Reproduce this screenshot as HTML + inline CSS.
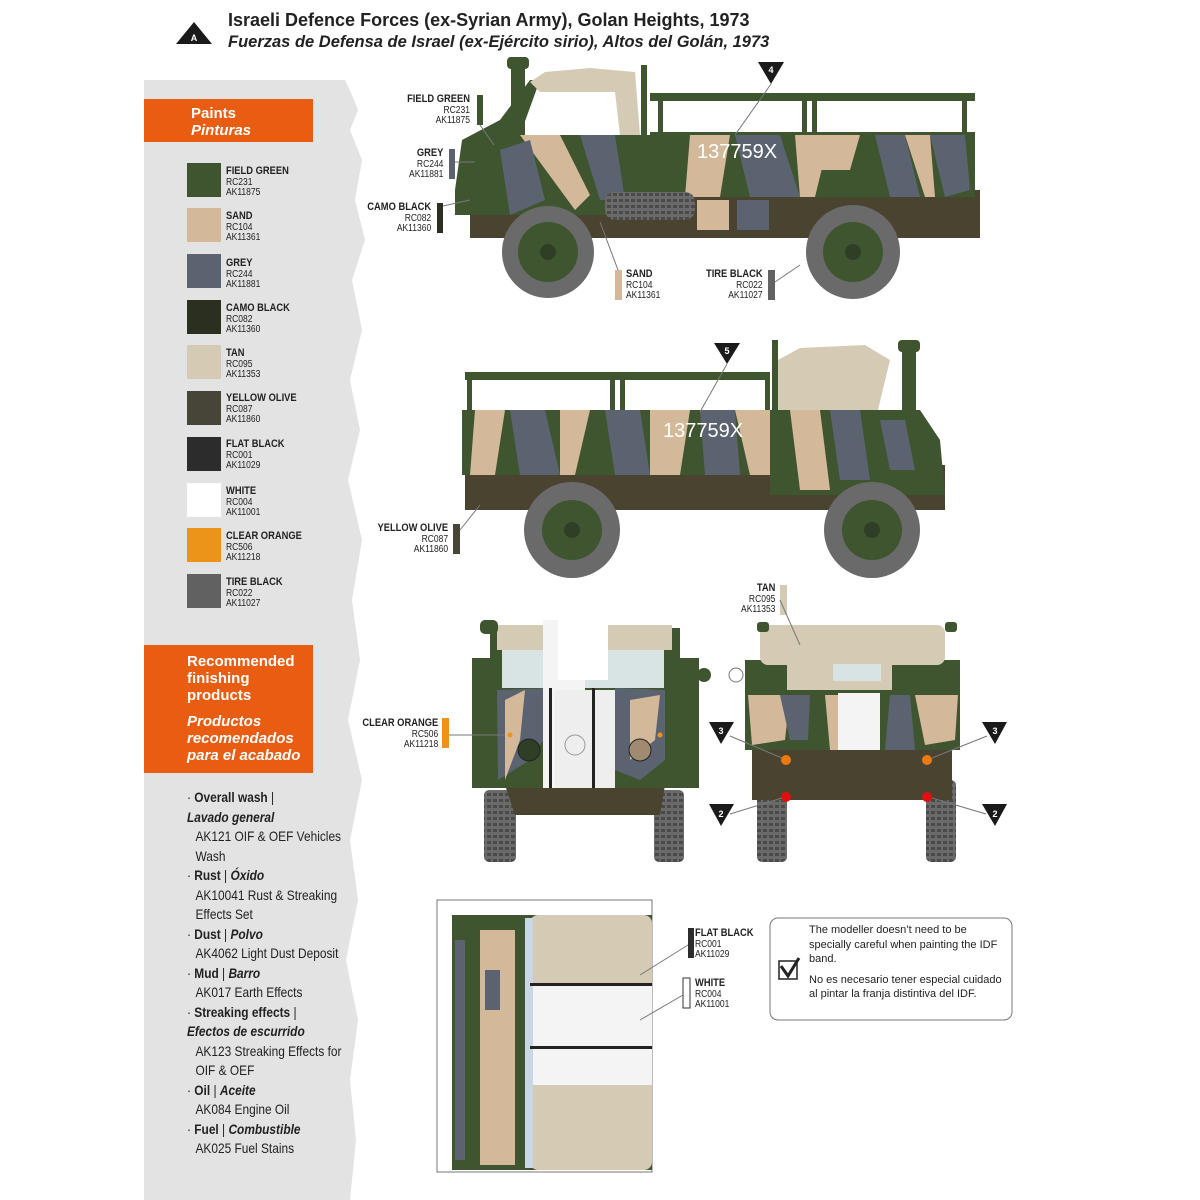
<!DOCTYPE html>
<html><head><meta charset="utf-8">
<style>
*{margin:0;padding:0;box-sizing:border-box}
body{width:1200px;height:1200px;background:#fff;position:relative;overflow:hidden;font-family:"Liberation Sans",sans-serif;color:#222}
.abs{position:absolute}
.cond{font-family:"Liberation Sans Narrow","Liberation Sans",sans-serif}
.sw{position:absolute;left:187px;width:34px;height:34px}
.lab{position:absolute;left:226px;font-size:10px;line-height:10.5px;transform:scaleX(.85);transform-origin:left top;color:#222}
.lab b{font-size:11px}
.orange{background:#e85d12;color:#fff;font-weight:bold;font-size:15px;line-height:17px}
.list{position:absolute;left:187px;font-size:14px;line-height:19.5px;transform:scaleX(.85);transform-origin:left top;color:#222}
.list .i{padding-left:10px}
.cl{position:absolute;font-size:10px;line-height:10.5px;text-align:right;transform:scaleX(.85);transform-origin:right top}
.cl b{font-size:11px}
</style></head><body>
<!-- grey band -->
<svg class="abs" style="left:0;top:0" width="1200" height="1200">
<path d="M144 80 L345 80 L352 95 L358 110 L350 130 L362 160 L355 200 L365 240 L352 280 L362 330 L350 380 L360 430 L348 480 L362 540 L352 600 L360 660 L348 720 L362 780 L350 840 L358 900 L346 960 L358 1020 L350 1080 L356 1140 L350 1200 L144 1200 Z" fill="#e3e3e3"/>
<polygon points="176,44 212,44 194,22" fill="#1a1a1a"/>
<text x="194" y="41" font-size="9" font-weight="bold" fill="#fff" text-anchor="middle" font-family="Liberation Sans">A</text>
</svg>
<div class="abs" style="left:228px;top:10px;font-size:18px;font-weight:bold;color:#222">Israeli Defence Forces (ex-Syrian Army), Golan Heights, 1973</div>
<div class="abs" style="left:228px;top:33px;font-size:16.5px;font-weight:bold;font-style:italic;color:#222">Fuerzas de Defensa de Israel (ex-Ejército sirio), Altos del Golán, 1973</div>

<div class="abs orange" style="left:144px;top:99px;width:169px;height:43px;padding:6px 0 0 47px">Paints<br><i>Pinturas</i></div>

<div class="sw" style="top:163px;background:#3f5530"></div><div class="lab" style="top:166px"><b>FIELD GREEN</b><br>RC231<br>AK11875</div>
<div class="sw" style="top:208px;background:#d3b99a"></div><div class="lab" style="top:211px"><b>SAND</b><br>RC104<br>AK11361</div>
<div class="sw" style="top:254px;background:#5b6370"></div><div class="lab" style="top:258px"><b>GREY</b><br>RC244<br>AK11881</div>
<div class="sw" style="top:300px;background:#2a2f1f"></div><div class="lab" style="top:303px"><b>CAMO BLACK</b><br>RC082<br>AK11360</div>
<div class="sw" style="top:345px;background:#d5cbb4"></div><div class="lab" style="top:348px"><b>TAN</b><br>RC095<br>AK11353</div>
<div class="sw" style="top:391px;background:#474538"></div><div class="lab" style="top:393px"><b>YELLOW OLIVE</b><br>RC087<br>AK11860</div>
<div class="sw" style="top:437px;background:#2c2c2c"></div><div class="lab" style="top:439px"><b>FLAT BLACK</b><br>RC001<br>AK11029</div>
<div class="sw" style="top:483px;background:#fff"></div><div class="lab" style="top:486px"><b>WHITE</b><br>RC004<br>AK11001</div>
<div class="sw" style="top:528px;background:#ec9419"></div><div class="lab" style="top:531px"><b>CLEAR ORANGE</b><br>RC506<br>AK11218</div>
<div class="sw" style="top:574px;background:#616161"></div><div class="lab" style="top:577px"><b>TIRE BLACK</b><br>RC022<br>AK11027</div>

<div class="abs orange" style="left:144px;top:645px;width:169px;height:128px;padding:8px 0 0 43px">Recommended<br>finishing<br>products<div style="height:9px"></div><i>Productos<br>recomendados<br>para el acabado</i></div>

<div class="list" style="top:788px">
<div>· <b>Overall wash</b> |</div>
<div><b><i>Lavado general</i></b></div>
<div class="i">AK121 OIF &amp; OEF Vehicles</div>
<div class="i">Wash</div>
<div>· <b>Rust</b> | <b><i>Óxido</i></b></div>
<div class="i">AK10041 Rust &amp; Streaking</div>
<div class="i">Effects Set</div>
<div>· <b>Dust</b> | <b><i>Polvo</i></b></div>
<div class="i">AK4062 Light Dust Deposit</div>
<div>· <b>Mud</b> | <b><i>Barro</i></b></div>
<div class="i">AK017 Earth Effects</div>
<div>· <b>Streaking effects</b> |</div>
<div><b><i>Efectos de escurrido</i></b></div>
<div class="i">AK123 Streaking Effects for</div>
<div class="i">OIF &amp; OEF</div>
<div>· <b>Oil</b> | <b><i>Aceite</i></b></div>
<div class="i">AK084 Engine Oil</div>
<div>· <b>Fuel</b> | <b><i>Combustible</i></b></div>
<div class="i">AK025 Fuel Stains</div>
</div>

<svg class="abs" style="left:0;top:0" width="1200" height="1200">
<defs>
<pattern id="tread" width="6" height="6" patternUnits="userSpaceOnUse"><rect width="6" height="6" fill="#6a6a6a"/><rect x="1" y="1" width="4" height="3" fill="#4a4a4a"/></pattern>
</defs>
<!-- ===== SIDE VIEW 1 ===== -->
<g>
<!-- chassis -->
<rect x="470" y="190" width="510" height="48" fill="#4a4330"/>
<!-- cab -->
<path d="M455 190 L462 140 L500 120 L530 80 L540 80 L520 135 L650 135 L650 215 L455 215 Z" fill="#3f5530"/>
<rect x="511" y="60" width="14" height="80" fill="#3f5530"/>
<rect x="507" y="57" width="22" height="12" rx="4" fill="#3f5530"/>
<path d="M530 82 L545 72 L590 68 L635 72 L640 135 L620 135 L615 92 L540 92 Z" fill="#d5cbb4"/>
<rect x="641" y="65" width="6" height="150" fill="#3f5530"/>
<!-- cargo rails -->
<rect x="650" y="93" width="325" height="8" fill="#3f5530"/>
<rect x="658" y="93" width="5" height="45" fill="#3f5530"/><rect x="802" y="93" width="5" height="45" fill="#3f5530"/><rect x="812" y="93" width="5" height="45" fill="#3f5530"/><rect x="962" y="93" width="5" height="45" fill="#3f5530"/>
<rect x="650" y="132" width="325" height="65" fill="#3f5530"/>
<!-- camo -->
<path d="M520 135 L560 135 L590 195 L575 210 Z" fill="#d3b99a"/>
<path d="M580 135 L615 135 L625 200 L600 200 Z" fill="#5b6370"/>
<path d="M500 150 L530 140 L545 200 L510 215 Z" fill="#5b6370"/>
<path d="M690 135 L730 135 L720 197 L685 197 Z" fill="#d3b99a"/>
<path d="M735 135 L780 135 L800 197 L750 197 Z" fill="#5b6370"/>
<path d="M795 135 L830 135 L815 197 L800 197 Z" fill="#d3b99a"/>
<path d="M815 135 L860 135 L850 170 L820 170 Z" fill="#d3b99a"/>
<path d="M875 135 L905 135 L920 197 L890 197 Z" fill="#5b6370"/>
<path d="M905 135 L930 135 L935 197 L925 197 Z" fill="#d3b99a"/>
<path d="M930 135 L965 135 L970 190 L945 197 Z" fill="#5b6370"/>
<text x="697" y="158" font-size="20" fill="#fff" font-family="Liberation Sans">137759X</text>
<!-- spare tire -->
<rect x="605" y="192" width="90" height="28" rx="10" fill="url(#tread)"/>
<rect x="697" y="200" width="32" height="30" fill="#d3b99a"/><rect x="737" y="200" width="32" height="30" fill="#5b6370"/>
<!-- wheels -->
<circle cx="548" cy="252" r="46" fill="#6a6a6a"/><circle cx="548" cy="252" r="30" fill="#3f5530"/><circle cx="548" cy="252" r="8" fill="#2f3f25"/>
<circle cx="853" cy="252" r="47" fill="#6a6a6a"/><circle cx="853" cy="252" r="30" fill="#3f5530"/><circle cx="853" cy="252" r="8" fill="#2f3f25"/>
<!-- triangle 4 -->
<polygon points="758,62 784,62 771,84" fill="#1a1a1a"/><text x="771" y="73" font-size="9" font-weight="bold" fill="#fff" text-anchor="middle">4</text>
<line x1="771" y1="84" x2="735" y2="135" stroke="#777"/>
<!-- color chips -->
<rect x="477" y="95" width="6" height="30" fill="#3f5530"/><line x1="480" y1="125" x2="494" y2="145" stroke="#777"/>
<rect x="449" y="149" width="6" height="30" fill="#5b6370"/><line x1="455" y1="162" x2="475" y2="162" stroke="#777"/>
<rect x="437" y="203" width="6" height="30" fill="#2a2f1f"/><line x1="443" y1="206" x2="470" y2="200" stroke="#777"/>
<rect x="615" y="270" width="7" height="30" fill="#d3b99a"/><line x1="618" y1="270" x2="600" y2="222" stroke="#777"/>
<rect x="768" y="270" width="7" height="30" fill="#616161"/><line x1="775" y1="282" x2="800" y2="265" stroke="#777"/>
</g>

<!-- ===== SIDE VIEW 2 ===== -->
<g>
<rect x="465" y="465" width="480" height="45" fill="#4a4330"/>
<rect x="465" y="372" width="305" height="8" fill="#3f5530"/>
<rect x="467" y="372" width="5" height="45" fill="#3f5530"/><rect x="610" y="372" width="5" height="45" fill="#3f5530"/><rect x="620" y="372" width="5" height="45" fill="#3f5530"/><rect x="765" y="372" width="5" height="45" fill="#3f5530"/>
<rect x="462" y="410" width="310" height="65" fill="#3f5530"/>
<path d="M770 410 L920 410 L940 440 L945 495 L770 495 Z" fill="#3f5530"/>
<rect x="772" y="340" width="6" height="75" fill="#3f5530"/>
<path d="M778 360 L800 348 L865 345 L890 360 L878 410 L778 410 Z" fill="#d5cbb4"/>
<rect x="902" y="350" width="14" height="70" fill="#3f5530"/><rect x="898" y="340" width="22" height="12" rx="4" fill="#3f5530"/>
<path d="M475 410 L505 410 L495 475 L470 475 Z" fill="#d3b99a"/>
<path d="M510 410 L545 410 L560 475 L520 475 Z" fill="#5b6370"/>
<path d="M560 410 L590 410 L575 475 L560 475 Z" fill="#d3b99a"/>
<path d="M605 410 L640 410 L650 475 L615 475 Z" fill="#5b6370"/>
<path d="M650 410 L690 410 L680 475 L650 475 Z" fill="#d3b99a"/>
<path d="M700 410 L735 410 L740 475 L705 475 Z" fill="#5b6370"/>
<path d="M735 410 L770 410 L770 475 L750 475 Z" fill="#d3b99a"/>
<path d="M790 410 L820 410 L830 490 L800 490 Z" fill="#d3b99a"/>
<path d="M830 410 L860 410 L870 480 L840 480 Z" fill="#5b6370"/>
<path d="M880 420 L905 420 L915 470 L890 470 Z" fill="#5b6370"/>
<text x="663" y="437" font-size="20" fill="#fff">137759X</text>
<circle cx="572" cy="530" r="48" fill="#6a6a6a"/><circle cx="572" cy="530" r="30" fill="#3f5530"/><circle cx="572" cy="530" r="8" fill="#2f3f25"/>
<circle cx="872" cy="530" r="48" fill="#6a6a6a"/><circle cx="872" cy="530" r="30" fill="#3f5530"/><circle cx="872" cy="530" r="8" fill="#2f3f25"/>
<polygon points="714,343 740,343 727,364" fill="#1a1a1a"/><text x="727" y="354" font-size="9" font-weight="bold" fill="#fff" text-anchor="middle">5</text>
<line x1="727" y1="364" x2="700" y2="412" stroke="#777"/>
<rect x="453" y="524" width="7" height="30" fill="#474538"/><line x1="460" y1="530" x2="480" y2="505" stroke="#777"/>
</g>

<!-- ===== FRONT VIEW ===== -->
<g>
<rect x="484" y="790" width="32" height="72" rx="5" fill="url(#tread)"/><rect x="654" y="790" width="30" height="72" rx="5" fill="url(#tread)"/>
<path d="M505 785 L665 785 L660 815 L515 815 Z" fill="#4a4330"/>
<rect x="472" y="658" width="30" height="130" fill="#3f5530"/><rect x="667" y="658" width="32" height="130" fill="#3f5530"/>
<rect x="490" y="628" width="190" height="160" fill="#3f5530"/>
<rect x="497" y="625" width="175" height="25" fill="#d5cbb4"/>
<rect x="480" y="620" width="18" height="14" rx="5" fill="#3f5530"/>
<rect x="502" y="650" width="162" height="38" fill="#d8e4e4"/>
<line x1="583" y1="650" x2="583" y2="688" stroke="#bbb"/>
<path d="M497 690 L555 688 L550 730 L530 760 L498 780 Z" fill="#5b6370"/>
<path d="M505 700 L525 690 L520 740 L505 780 Z" fill="#d3b99a"/>
<path d="M615 688 L665 690 L665 760 L640 780 L615 770 Z" fill="#5b6370"/>
<path d="M630 700 L660 695 L655 740 L630 760 Z" fill="#d3b99a"/>
<rect x="543" y="620" width="42" height="168" fill="#f4f4f4"/>
<rect x="558" y="620" width="50" height="60" fill="#fff"/>
<rect x="555" y="690" width="60" height="98" fill="#eee"/>
<rect x="549" y="688" width="3" height="100" fill="#222"/><rect x="592" y="688" width="3" height="100" fill="#222"/>
<circle cx="529" cy="750" r="11" fill="#2f3f25" stroke="#222"/><circle cx="640" cy="750" r="11" fill="#a08a70" stroke="#222"/>
<circle cx="575" cy="745" r="10" fill="none" stroke="#999"/>
<circle cx="704" cy="675" r="7" fill="#3f5530"/>
<rect x="442" y="718" width="7" height="30" fill="#ec9419"/><line x1="449" y1="735" x2="505" y2="735" stroke="#777"/>
<circle cx="510" cy="735" r="2.5" fill="#ec9419"/><circle cx="660" cy="735" r="2.5" fill="#ec9419"/>
</g>

<!-- ===== REAR VIEW ===== -->
<g>
<rect x="757" y="780" width="30" height="82" rx="5" fill="url(#tread)"/><rect x="926" y="780" width="30" height="82" rx="5" fill="url(#tread)"/>
<rect x="745" y="660" width="215" height="90" fill="#3f5530"/>
<rect x="760" y="625" width="185" height="40" rx="8" fill="#d5cbb4"/>
<rect x="757" y="622" width="12" height="10" rx="3" fill="#3f5530"/><rect x="945" y="622" width="12" height="10" rx="3" fill="#3f5530"/>
<rect x="787" y="662" width="105" height="28" fill="#d5cbb4"/>
<rect x="833" y="664" width="48" height="17" fill="#d8e4e4"/>
<path d="M748 695 L790 695 L785 740 L752 745 Z" fill="#d3b99a"/>
<path d="M780 695 L810 695 L808 740 L790 740 Z" fill="#5b6370"/>
<path d="M825 695 L855 695 L855 750 L830 750 Z" fill="#d3b99a"/>
<path d="M890 695 L910 695 L915 750 L885 750 Z" fill="#5b6370"/>
<path d="M915 695 L958 695 L955 740 L925 745 Z" fill="#d3b99a"/>
<rect x="838" y="693" width="42" height="57" fill="#f4f4f4"/>
<rect x="752" y="750" width="200" height="50" fill="#4a4330"/>
<circle cx="736" cy="675" r="7" fill="#fff" stroke="#777"/>
<circle cx="786" cy="760" r="5" fill="#ec7a10"/><circle cx="927" cy="760" r="5" fill="#ec7a10"/>
<circle cx="786" cy="797" r="5" fill="#e01010"/><circle cx="927" cy="797" r="5" fill="#e01010"/>
<rect x="780" y="585" width="7" height="30" fill="#d5cbb4"/><line x1="780" y1="600" x2="800" y2="645" stroke="#777"/>
<g fill="#1a1a1a" font-size="9" font-weight="bold" text-anchor="middle">
<polygon points="709,722 734,722 721,744"/><polygon points="982,722 1007,722 995,744"/>
<polygon points="709,804 734,804 721,826"/><polygon points="982,804 1007,804 995,826"/>
</g>
<g fill="#fff" font-size="9" font-weight="bold" text-anchor="middle"><text x="721" y="734">3</text><text x="995" y="734">3</text><text x="721" y="817">2</text><text x="995" y="817">2</text></g>
<g stroke="#777"><line x1="730" y1="736" x2="782" y2="758"/><line x1="987" y1="736" x2="932" y2="758"/><line x1="730" y1="814" x2="782" y2="798"/><line x1="986" y1="814" x2="932" y2="798"/></g>
</g>

<!-- ===== TOP VIEW ===== -->
<rect x="437" y="900" width="215" height="272" fill="#fff" stroke="#777"/>
<g>
<rect x="452" y="915" width="200" height="255" fill="#3f5530"/>
<path d="M460 915 L520 915 L520 1170 L460 1170 Z" fill="#3f5530"/>
<rect x="480" y="930" width="35" height="235" fill="#d3b99a"/>
<rect x="485" y="970" width="15" height="40" fill="#5b6370"/>
<rect x="530" y="915" width="122" height="255" fill="#d5cbb4" rx="8"/>
<rect x="530" y="985" width="122" height="100" fill="#f4f4f4"/>
<rect x="525" y="918" width="8" height="250" fill="#c9d6e4"/>
<rect x="530" y="983" width="122" height="3" fill="#222"/><rect x="530" y="1046" width="122" height="3" fill="#222"/>
<rect x="455" y="940" width="10" height="220" fill="#5b6370"/>
</g>
<rect x="688" y="928" width="6" height="30" fill="#2c2c2c"/><line x1="688" y1="945" x2="640" y2="975" stroke="#777"/>
<rect x="683" y="978" width="7" height="30" fill="#fff" stroke="#333"/><line x1="683" y1="995" x2="640" y2="1020" stroke="#777"/>
<!-- note box -->
<rect x="770" y="918" width="242" height="102" rx="8" fill="#fff" stroke="#777"/>
<rect x="779" y="961" width="18" height="18" fill="#fff" stroke="#222" stroke-width="1.5"/>
<path d="M781 966 L788 976 L799 958" stroke="#222" stroke-width="3" fill="none"/>
</svg>

<div class="cl" style="right:730px;top:94px"><b>FIELD GREEN</b><br>RC231<br>AK11875</div>
<div class="cl" style="right:757px;top:148px"><b>GREY</b><br>RC244<br>AK11881</div>
<div class="cl" style="right:769px;top:202px"><b>CAMO BLACK</b><br>RC082<br>AK11360</div>
<div class="cl" style="left:626px;top:269px;text-align:left;transform-origin:left top"><b>SAND</b><br>RC104<br>AK11361</div>
<div class="cl" style="right:437px;top:269px"><b>TIRE BLACK</b><br>RC022<br>AK11027</div>
<div class="cl" style="right:752px;top:523px"><b>YELLOW OLIVE</b><br>RC087<br>AK11860</div>
<div class="cl" style="right:425px;top:583px"><b>TAN</b><br>RC095<br>AK11353</div>
<div class="cl" style="right:762px;top:718px"><b>CLEAR ORANGE</b><br>RC506<br>AK11218</div>
<div class="cl" style="left:695px;top:928px;text-align:left;transform-origin:left top"><b>FLAT BLACK</b><br>RC001<br>AK11029</div>
<div class="cl" style="left:695px;top:978px;text-align:left;transform-origin:left top"><b>WHITE</b><br>RC004<br>AK11001</div>
<div class="abs" style="left:809px;top:923px;font-size:11px;line-height:14.5px;color:#222;width:195px">The modeller doesn’t need to be specially careful when painting the IDF band.<div style="height:6px"></div>No es necesario tener especial cuidado al pintar la franja distintiva del IDF.</div>
</body></html>
